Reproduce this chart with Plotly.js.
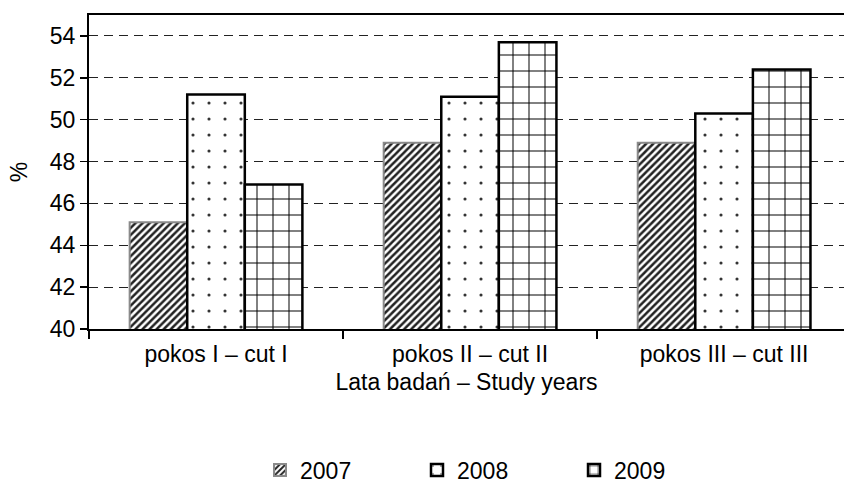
<!DOCTYPE html>
<html><head><meta charset="utf-8">
<script src="https://cdn.plot.ly/plotly-3.0.1.min.js"></script>
<style>html,body{margin:0;padding:0;background:#fff}#c{width:844px;height:484px}</style>
</head><body><div id="c"></div>
<script>
const categories = ["pokos I – cut I", "pokos II – cut II", "pokos III – cut III"];
const years = ["2007", "2008", "2009"];
const v2007 = [45.1, 48.9, 48.9];
const v2008 = [51.2, 51.1, 50.3];
const v2009 = [46.9, 53.7, 52.4];

const F = "Liberation Sans, Arial, sans-serif";
const FS = 23;
const traces = [
  {type:"bar", name:years[0], x:categories, y:v2007,
   marker:{color:"white", line:{color:"#8a8a8a", width:2},
     pattern:{shape:"/", fgcolor:"#222", bgcolor:"#fff", size:5, solidity:0.5}}},
  {type:"bar", name:years[1], x:categories, y:v2008,
   marker:{color:"white", line:{color:"#000", width:2.5},
     pattern:{shape:".", fgcolor:"#333", bgcolor:"#fff", size:16, solidity:0.03}}},
  {type:"bar", name:years[2], x:categories, y:v2009,
   marker:{color:"white", line:{color:"#000", width:2.5},
     pattern:{shape:"+", fgcolor:"#000", bgcolor:"#fff", size:16, solidity:0.12}}}
];
const layout = {
  width:844, height:484,
  margin:{l:89, r:0, t:15, b:155, pad:0, autoexpand:false},
  paper_bgcolor:"#fff", plot_bgcolor:"#fff",
  font:{family:F, size:FS, color:"#000"},
  barmode:"group", bargap:0.32, bargroupgap:0,
  showlegend:true,
  legend:{orientation:"h", x:0.2265, xanchor:"left", y:-0.449, yanchor:"middle",
    font:{family:F, size:FS}, entrywidth:112, itemwidth:30, borderwidth:0},
  xaxis:{type:"category", range:[-0.5, 2.472], automargin:false, showline:true, linecolor:"#000", linewidth:2,
    mirror:true, ticks:"outside", tickson:"boundaries", ticklen:8, tickwidth:1.5, tickcolor:"#000",
    ticklabelstandoff:3,
    showgrid:false, tickfont:{family:F, size:FS},
    title:{text:"Lata badań – Study years", font:{family:F, size:FS}, standoff:8}},
  yaxis:{range:[40, 55], tickvals:[40,42,44,46,48,50,52,54], automargin:false, showline:true, linecolor:"#000", linewidth:2,
    ticks:"outside", ticklen:7, tickwidth:1.5, tickcolor:"#000",
    showgrid:true, gridcolor:"#222", gridwidth:1, griddash:"9px,6px", zeroline:false,
    tickfont:{family:F, size:FS},
    title:{text:"%", font:{family:F, size:FS}, standoff:16}}
};
Plotly.newPlot("c", traces, layout, {displayModeBar:false, staticPlot:true});
</script></body></html>
